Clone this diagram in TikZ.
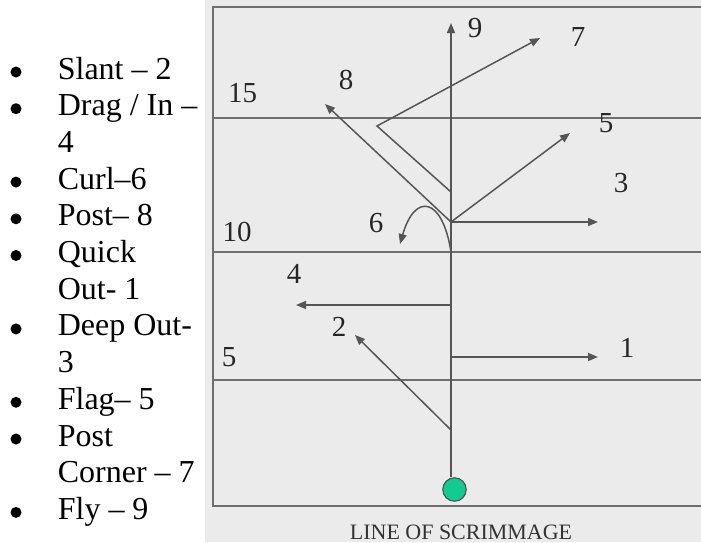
\documentclass[tikz,border=0pt]{standalone}
\usepackage{fontspec}
\setmainfont{Liberation Serif}
\usepackage{tikz}
\usetikzlibrary{arrows.meta,positioning}
\definecolor{fieldgray}{HTML}{EBEBEB}
\definecolor{linegray}{HTML}{6E6E6E}
\definecolor{routegray}{HTML}{555555}
\definecolor{ballgreen}{HTML}{10CC90}
\newcommand{\listfont}{\fontsize{18.2}{20.9}\selectfont}
\newcommand{\numfont}{\fontsize{16.5}{19}\selectfont}
\newcommand{\scrimfont}{\fontsize{12.5}{15}\selectfont}
\tikzset{
  item/.style={anchor=base west, inner sep=0pt, font=\listfont},
  bullet/.style={circle, fill=black, inner sep=0pt, minimum size=0.22cm},
  yard/.style={draw=linegray, line width=1.2pt},
  route/.style={draw=routegray, line width=0.85pt,
    -{Triangle[length=0.2cm,width=0.16cm]}},
  num/.style={inner sep=0pt, font=\numfont, text=black!85},
  ball/.style={circle, draw=black!70, fill=ballgreen, line width=0.6pt,
    inner sep=0pt, minimum size=0.47cm},
}

\begin{document}
\begin{tikzpicture}
%
\useasboundingbox (0,0) rectangle (14.02cm,10.84cm);
%
\fill[fieldgray] (4.10cm,0) rectangle (14.02cm,10.84cm);
\draw[yard] (14.02cm,10.70cm) -| (4.26cm,0.72cm) -- (14.02cm,0.72cm);
\draw[yard] (4.26cm,8.48cm) -- (14.02cm,8.48cm);
\draw[yard] (4.26cm,5.80cm) -- (14.02cm,5.80cm);
\draw[yard] (4.26cm,3.24cm) -- (14.02cm,3.24cm);
%
\node[num] (y15) at (4.85cm,8.98cm) {15};
\node[num] (y10) at (4.74cm,6.20cm) {10};
\node[num] (y5) at (4.58cm,3.70cm) {5};
\node[inner sep=0pt, font=\scrimfont, text=black!80] (los) at (9.22cm,0.20cm) {LINE OF SCRIMMAGE};
%
\coordinate (c2) at (9.02cm,2.24cm);
\coordinate (c1) at (9.02cm,3.70cm);
\coordinate (c4) at (9.02cm,4.74cm);
\coordinate (c6) at (9.02cm,5.80cm);
\coordinate (c3) at (9.02cm,6.40cm);
\coordinate (c7) at (9.02cm,7.00cm);
\coordinate (k7) at (7.54cm,8.32cm);
%
\coordinate (t2) at (7.10cm,4.14cm);
\coordinate (t1) at (11.96cm,3.70cm);
\coordinate (t4) at (5.92cm,4.74cm);
\coordinate (t6) at (8.00cm,5.96cm);
\coordinate (t3) at (11.96cm,6.40cm);
\coordinate (t5) at (11.40cm,8.18cm);
\coordinate (t8) at (6.50cm,8.76cm);
\coordinate (t7) at (10.80cm,10.08cm);
\coordinate (t9) at (9.02cm,10.38cm);
%
\node[ball] (ball) at (9.09cm,1.05cm) {};
%
\draw[route] (ball.north -| t9) -- (t9);
\draw[route] (c2) -- (t2);
\draw[route] (c1) -- (t1);
\draw[route] (c4) -- (t4);
\draw[route] (c6) .. controls (8.85cm,6.90cm) and (8.30cm,7.00cm) .. (t6);
\draw[route] (c3) -- (t3);
\draw[route] (c3) -- (t5);
\draw[route] (c3) -- (t8);
\draw[route] (c7) -- (k7) -- (t7);
%
\node[num] (n9) at (9.50cm,10.28cm) {9};
\node[num] (n7) at (11.56cm,10.10cm) {7};
\node[num] (n8) at (6.92cm,9.24cm) {8};
\node[num] (n5) at (12.12cm,8.38cm) {5};
\node[num] (n3) at (12.42cm,7.18cm) {3};
\node[num] (n6) at (7.52cm,6.38cm) {6};
\node[num] (n4) at (5.88cm,5.36cm) {4};
\node[num] (n2) at (6.78cm,4.30cm) {2};
\node[num] (n1) at (12.54cm,3.88cm) {1};
%
\node[bullet] (b1) at (0.32cm,9.40cm) {};
\node[item] (slant) at (1.15cm,9.26cm) {Slant -- 2};
\node[bullet] (b2) at (0.32cm,8.666cm) {};
\node[item] (drag) at (1.15cm,8.526cm) {Drag / In --};
\node[item] (drag2) at (1.15cm,7.792cm) {4};
\node[bullet] (b3) at (0.32cm,7.198cm) {};
\node[item] (curl) at (1.15cm,7.058cm) {Curl--6};
\node[bullet] (b4) at (0.32cm,6.464cm) {};
\node[item] (post) at (1.15cm,6.324cm) {Post-- 8};
\node[bullet] (b5) at (0.32cm,5.73cm) {};
\node[item] (quick) at (1.15cm,5.59cm) {Quick};
\node[item] (quick2) at (1.15cm,4.856cm) {Out- 1};
\node[bullet] (b6) at (0.32cm,4.262cm) {};
\node[item] (deep) at (1.15cm,4.122cm) {Deep Out-};
\node[item] (deep2) at (1.15cm,3.388cm) {3};
\node[bullet] (b7) at (0.32cm,2.794cm) {};
\node[item] (flag) at (1.15cm,2.654cm) {Flag-- 5};
\node[bullet] (b8) at (0.32cm,2.06cm) {};
\node[item] (corner) at (1.15cm,1.92cm) {Post};
\node[item] (corner2) at (1.15cm,1.186cm) {Corner -- 7};
\node[bullet] (b9) at (0.32cm,0.592cm) {};
\node[item] (fly) at (1.15cm,0.452cm) {Fly -- 9};
%
\end{tikzpicture}
\end{document}
